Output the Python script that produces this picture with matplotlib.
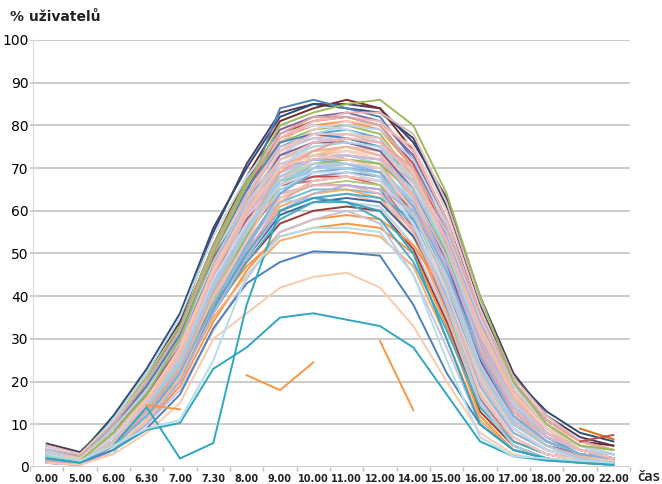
import matplotlib
matplotlib.use("Agg")
import matplotlib.pyplot as plt
import numpy as np

categories = ["0.00", "5.00", "6.00", "6.30", "7.00", "7.30", "8.00", "9.00", "10.00",
              "11.00", "12.00", "14.00", "15.00", "16.00", "17.00", "18.00", "20.00", "22.00"]
y_ticks = [0, 10, 20, 30, 40, 50, 60, 70, 80, 90, 100]
y_label = "% uživatelů"
x_label = "čas"

nan = np.nan
# main bundle of user curves (percent of users online)
s01 = [5.5, 3.5, 11, 22, 34, 55, 71, 83, 85, 85, 84, 76, 63, 40, 22, 12, 7, 5]
s02 = [5, 3, 12, 23, 36, 56, 70, 82, 85, 84, 83, 77, 61, 38, 21, 13, 8, 6]
s03 = [4, 2.5, 10, 20, 33, 52, 68, 81, 84, 86, 84, 74, 58, 36, 20, 11, 6, 5]
s04 = [2, 1, 7, 15, 28, 48, 64, 84, 86, 84, 82, 72, 55, 32, 17, 9, 5, 3]
s05 = [4.5, 3, 9, 19, 31, 51, 67, 79, 82, 83, 81, 73, 57, 34, 19, 11, 6, 4]
s06 = [3, 2, 8, 18, 30, 49, 65, 78, 81, 82, 80, 71, 54, 30, 16, 9, 5, 3]
s07 = [1.5, 0.5, 6, 14, 26, 46, 62, 77, 80, 81, 79, 70, 52, 28, 14, 8, 4, 3]
s08 = [5, 3, 11, 21, 33, 52, 67, 76, 79, 80, 78, 68, 50, 27, 14, 8, 4, 3]
s09 = [2.5, 1.5, 8, 17, 29, 48, 63, 75, 78, 79, 77, 66, 48, 25, 12, 6, 3, 2]
s10 = [4, 2.5, 9, 18, 30, 47, 61, 74, 77, 78, 76, 69, 53, 31, 16, 9, 5, 4]
s11 = [1, 0.5, 5, 13, 25, 44, 60, 73, 76, 77, 75, 65, 46, 24, 11, 6, 3, 2]
s12 = [3.5, 2, 10, 19, 31, 50, 64, 75, 77, 76, 74, 64, 45, 22, 10, 5, 3, 2]
s13 = [2, 1, 7, 16, 27, 45, 59, 72, 75, 76, 74, 66, 51, 29, 15, 8, 4, 3]
s14 = [4.5, 3, 10, 20, 32, 50, 62, 73, 74, 75, 73, 62, 44, 21, 10, 5, 3, 2]
s15 = [1.5, 0.5, 6, 14, 24, 42, 57, 70, 73, 74, 73, 64, 49, 30, 17, 10, 6, 4]
s16 = [3, 2, 8, 16, 28, 46, 60, 71, 73, 73, 72, 63, 47, 26, 13, 7, 4, 3]
s17 = [2.5, 1, 7, 15, 26, 44, 58, 69, 72, 72, 71, 61, 43, 20, 9, 4, 2, 1.5]
s18 = [4, 2.5, 9, 18, 29, 47, 60, 68, 71, 71, 70, 60, 42, 19, 8, 4, 2, 1.5]
s19 = [1, 0.5, 5, 12, 22, 40, 55, 67, 70, 71, 69, 62, 48, 28, 15, 9, 5, 3]
s20 = [3, 2, 8, 17, 28, 45, 58, 67, 69, 70, 68, 58, 40, 18, 8, 4, 2, 1]
s21 = [2, 1, 6, 14, 24, 41, 54, 65, 68, 69, 68, 60, 45, 25, 12, 6, 3, 2]
s22 = [4, 2.5, 10, 19, 30, 46, 57, 66, 67, 68, 66, 56, 38, 17, 7, 3, 2, 1]
s23 = [1.5, 0.5, 5, 13, 23, 39, 52, 63, 66, 67, 66, 59, 46, 27, 14, 8, 4, 3]
s24 = [2.5, 1.5, 7, 15, 26, 43, 55, 64, 66, 66, 65, 55, 37, 16, 6, 3, 1.5, 1]
s25 = [3.5, 2, 8, 16, 27, 42, 53, 62, 65, 65, 64, 57, 43, 23, 11, 6, 3, 2]
s26 = [1, 0.5, 4, 11, 21, 37, 50, 61, 64, 65, 63, 54, 36, 15, 6, 3, 1.5, 1]
s27 = [2, 1, 6, 14, 24, 40, 51, 60, 63, 64, 62, 56, 44, 26, 13, 7, 4, 2]
s28 = [3, 2, 7, 15, 25, 41, 52, 62, 63, 62, 61, 52, 35, 14, 5, 2, 1, 1]
s29 = [1.5, 1, 5, 12, 22, 38, 49, 59, 62, 63, 62, 54, 41, 22, 10, 5, 3, 2]
s30 = [2, 1, 6, 13, 23, 38, 48, 57, 60, 61, 60, 51, 34, 13, 5, 2, 1, 1]
s31 = [1, 0.5, 4, 10, 19, 34, 46, 55, 58, 59, 58, 52, 40, 21, 9, 4, 2, 1.5]
s32 = [3, 1.5, 7, 14, 23, 37, 47, 54, 56, 57, 56, 50, 33, 12, 4, 2, 1, 1]
s33 = [2.5, 1, 6, 13, 21, 35, 45, 53, 55, 55, 54, 47, 30, 11, 4, 2, 1, 0.5]
s34 = [1, 0.5, 4, 10, 18, 32, 44, 55, 58, 60, 57, 45, 28, 10, 4, 2, 1, 0.5]
s35 = [2, 1, 5, 12, 20, 36, 48, 58, 62, 62, 58, 48, 32, 14, 6, 3, 1.5, 1]
s36 = [3, 1.5, 8, 16, 27, 45, 60, 74, 79, 81, 80, 75, 60, 37, 19, 10, 5, 3]
s37 = [4.5, 2.5, 11, 22, 35, 54, 68, 78, 80, 79, 76, 66, 47, 24, 11, 6, 3, 2]
s38 = [2, 1, 7, 15, 27, 45, 58, 68, 70, 70, 69, 63, 50, 32, 18, 10, 5, 3]
s39 = [3.5, 2, 9, 18, 29, 47, 61, 72, 74, 74, 72, 60, 41, 18, 7, 3, 1.5, 1]
s40 = [1, 0.5, 5, 12, 21, 37, 51, 64, 70, 73, 72, 67, 54, 34, 18, 9, 4, 2]
s41 = [3, 1.5, 8, 17, 28, 46, 62, 76, 81, 83, 83, 78, 62, 39, 21, 12, 6, 4]
s42 = [1.5, 0.5, 5, 12, 22, 40, 56, 70, 76, 78, 77, 69, 52, 30, 15, 7, 3, 2]
s43 = [5, 3, 10, 20, 32, 50, 63, 70, 71, 70, 68, 58, 39, 17, 7, 3, 2, 1.5]
s44 = [3, 2, 3, 16, 26, 43, 57, 68, 72, 73, 71, 57, 38, 15, 5, 2, 1, 0.5]
s51 = [2, 1, 6, 15, 27, 47, 63, 77, 81, 82, 81, 74, 58, 35, 18, 9, 4, 3]
s52 = [4, 2.5, 9, 19, 31, 50, 65, 76, 78, 77, 75, 67, 50, 28, 14, 7, 4, 2]
s53 = [1.5, 1, 6, 14, 25, 43, 58, 71, 74, 75, 74, 68, 55, 35, 20, 11, 6, 4]
s54 = [3, 2, 8, 17, 28, 45, 58, 66, 68, 68, 67, 60, 46, 26, 12, 6, 3, 2]
s55 = [2.5, 1.5, 7, 15, 25, 42, 55, 65, 69, 70, 69, 63, 49, 29, 14, 7, 3, 2]
s56 = [1, 0.5, 4, 11, 20, 36, 50, 62, 67, 68, 67, 61, 47, 27, 13, 6, 3, 1.5]
s57 = [4, 2, 9, 18, 30, 48, 61, 70, 72, 71, 69, 58, 40, 19, 8, 4, 2, 1]
s58 = [2, 1, 6, 13, 23, 40, 54, 66, 71, 72, 71, 64, 50, 31, 16, 8, 4, 2]
s59 = [3, 1.5, 7, 15, 26, 44, 57, 68, 72, 74, 73, 66, 52, 32, 17, 9, 5, 3]
s60 = [1.5, 0.5, 5, 12, 21, 37, 50, 60, 63, 64, 63, 58, 46, 28, 14, 7, 3, 2]
s61 = [3.5, 2, 8, 16, 27, 44, 56, 64, 66, 66, 64, 55, 39, 20, 9, 4, 2, 1]
s62 = [2, 1, 6, 14, 25, 43, 59, 73, 78, 80, 79, 72, 57, 36, 19, 10, 5, 3]
s63 = [4, 2.5, 10, 20, 32, 51, 66, 78, 82, 82, 80, 70, 52, 29, 14, 7, 4, 2]
s64 = [1, 0.5, 4, 11, 21, 38, 53, 67, 73, 75, 74, 67, 53, 33, 17, 8, 4, 2]
s65 = [2.5, 1, 7, 15, 26, 43, 56, 66, 70, 71, 70, 62, 47, 26, 12, 6, 3, 2]
s66 = [3, 2, 8, 17, 29, 48, 62, 73, 76, 76, 74, 65, 48, 25, 11, 5, 3, 2]
s67 = [2, 1, 5, 13, 23, 40, 53, 63, 67, 68, 67, 59, 44, 24, 11, 5, 2, 1.5]
s68 = [1.5, 1, 6, 14, 25, 42, 56, 68, 72, 73, 72, 65, 51, 31, 16, 8, 4, 2]
s69 = [3, 1.5, 7, 16, 27, 45, 59, 70, 74, 75, 73, 63, 46, 24, 11, 5, 2.5, 1.5]
s70 = [2, 1, 6, 14, 24, 41, 55, 67, 71, 71, 70, 61, 45, 24, 11, 6, 3, 2]
s71 = [4, 2, 9, 18, 29, 46, 59, 69, 72, 73, 72, 64, 49, 28, 14, 7, 4, 3]
s72 = [1, 0.5, 5, 12, 22, 38, 52, 64, 69, 70, 69, 61, 46, 26, 12, 6, 3, 2]
s73 = [2.5, 1.5, 7, 16, 27, 46, 61, 74, 78, 78, 77, 69, 53, 31, 15, 8, 4, 2]
s74 = [3.5, 2, 9, 18, 30, 48, 62, 72, 75, 76, 75, 67, 51, 30, 15, 8, 4, 3]
s75 = [1.5, 0.5, 5, 13, 23, 41, 56, 69, 74, 77, 76, 70, 56, 36, 20, 11, 6, 4]
s76 = [2, 1, 7, 15, 26, 44, 57, 66, 69, 69, 67, 57, 41, 21, 9, 4, 2, 1]
s77 = [3, 2, 8, 16, 28, 46, 60, 70, 73, 72, 70, 60, 43, 22, 10, 5, 2, 1.5]
s78 = [1, 0.5, 4, 10, 20, 36, 49, 60, 64, 66, 65, 60, 48, 30, 16, 8, 4, 2]
s79 = [2.5, 1.5, 6, 14, 24, 42, 56, 67, 70, 70, 68, 59, 43, 23, 10, 5, 2, 1]
s80 = [2, 1, 6, 15, 26, 45, 60, 72, 76, 77, 76, 68, 53, 32, 16, 8, 4, 2]
# green curve with the latest afternoon drop
s45 = [3, 1.5, 8, 17, 30, 50, 66, 80, 83, 85, 86, 80, 64, 40, 20, 10, 5, 4]
# low outliers
s46 = [2, 1, 4, 9, 17, 32.5, 43, 48, 50.5, 50.2, 49.5, 38, 22, 10, 4, 2, 1, 1]
s47 = [1, 0.5, 3, 8, 15, 30, 36, 42, 44.5, 45.5, 42, 33, 20, 8, 3, 1.5, 1, 0.5]
s48 = [nan, nan, 4, 8.7, 10.3, 23, 28, 35, 36, 34.5, 33, 28, 17, 6, 2.5, 1.5, 1, 0.5]
s49 = [2, 1, 5, 14, 2, 5.6, 38, 60, 63, 62, 60, 50, 30, 10, 4, 2, 1, 0.5]
s50 = [3, 1.5, 5, 9, 11, 25, 45, 54, 56, 56, 55, 45, 25, 7, 2.5, 2, 1.5, 1]
# broken orange fragments
f1 = [nan, nan, nan, 14.5, 13.5, nan, nan, nan, nan, nan, nan, nan, nan, nan, nan, nan, nan, nan]
f2 = [nan, nan, nan, nan, nan, nan, 21.5, 18, 24.5, nan, nan, nan, nan, nan, nan, nan, nan, nan]
f3 = [nan, nan, nan, nan, nan, nan, nan, nan, nan, nan, 29.5, 13.3, nan, nan, nan, nan, nan, nan]
f4 = [nan, nan, nan, nan, nan, nan, nan, nan, nan, nan, nan, nan, nan, nan, nan, nan, 9, 6.5]
f5 = [nan, nan, nan, nan, nan, nan, nan, nan, nan, nan, nan, nan, nan, nan, nan, nan, 6, 7.5]

series = [s01, s02, s03, s04, s05, s06, s07, s08, s09, s10, s11, s12, s13, s14, s15,
          s16, s17, s18, s19, s20, s21, s22, s23, s24, s25, s26, s27, s28, s29, s30,
          s31, s32, s33, s34, s35, s36, s37, s38, s39, s40, s41, s42, s43, s44,
          s51, s52, s53, s54, s55, s56, s57, s58, s59, s60, s61, s62, s63, s64, s65,
          s66, s67, s68, s69, s70, s71, s72, s73, s74, s75, s76, s77, s78, s79, s80,
          s45, s46, s47, s48, s49, s50, f1, f2, f3, f4, f5]
colors = ['#4D3B62', '#2C4D75', '#772C2A', '#4F81BD', '#8064A2', '#C0504D', '#F79646',
          '#9BBB59', '#4BACC6', '#E6B9B8', '#B9CDE5', '#CCC0DA', '#F2DCDB', '#B7DEE8',
          '#FAC090', '#95B3D7', '#D99694', '#C3D69B', '#B3A2C7', '#93CDDD', '#729ACA',
          '#CD7371', '#AFC97A', '#9983B5', '#6FBDD1', '#F9AB6B', '#E6B9B8', '#B9CDE5',
          '#3A679C', '#9F3B38', '#F79646', '#F79646', '#F9AB6B', '#CCC0DA', '#4BACC6',
          '#F4C7C3', '#C6D9F1', '#DDD9C4', '#FCD5B5', '#8EB4E3', '#E6B9B8', '#B9CDE5',
          '#F2C4C0', '#A6D3E0',
          '#F4B6B0', '#4F81BD', '#D7C9E4', '#C0504D', '#B0DCE6', '#E8A7A4', '#93B9E0',
          '#9BBB59', '#F5D0CC', '#4BACC6', '#E9B8B6', '#BDD1EC', '#D4A5A3', '#F8C19A',
          '#A8C6E6', '#8064A2', '#EFC2C0', '#9FCFDF', '#F3B49A', '#B3CBE8', '#DCB8D6',
          '#7FB0DC', '#F2BFB7', '#AFD5E2', '#E3A6A1', '#C7D7EE', '#F6C8B0', '#B9B0D6',
          '#A4CCE0', '#F0B8B2',
          '#9BBB59', '#4F81BD', '#F8CBAD', '#31A6C0', '#31A6C0',
          '#B7DEE8', '#F79646', '#F79646', '#F79646', '#E46C0A', '#C0504D']

fig = plt.figure(figsize=(6.62, 4.84), dpi=100)
ax = fig.add_axes([30 / 662, 1 - 467 / 484, 600 / 662, 427 / 484])
x = np.arange(len(categories))
for s, c in zip(series, colors):
    ax.plot(x, s, color=c, lw=1.4, solid_joinstyle='miter', zorder=3)

ax.set_xlim(-0.5, len(categories) - 0.5)
ax.set_ylim(0, 100)
ax.set_yticks(y_ticks)
ax.set_yticklabels([str(v) for v in y_ticks], fontsize=6, fontweight='bold', color='#222222')
ax.set_xticks(x)
ax.set_xticklabels(categories, fontsize=7, fontweight='bold', color='#222222',
                   family=['Liberation Sans Narrow', 'DejaVu Sans'])
ax.set_xticks(np.arange(-0.5, len(categories), 1), minor=True)
ax.tick_params(axis='x', which='major', length=0, pad=5)
ax.tick_params(axis='x', which='minor', length=3, color='#bbbbbb', width=1)
ax.tick_params(axis='y', length=0, pad=3.5)
ax.grid(axis='y', color='#c8c8c8', lw=1.3)
ax.set_axisbelow(True)
for side in ['top', 'right', 'bottom']:
    ax.spines[side].set_visible(False)
ax.spines['left'].set_color('#d9d9d9')
ax.spines['left'].set_position(('data', -0.4))

fig.text(10 / 662, 1 - 17 / 484, y_label, fontsize=10, fontweight='bold', va='center', ha='left',
         color='#222222')
fig.text(637 / 662, 1 - 477 / 484, x_label, fontsize=10.5, fontweight='semibold',
         family=['Open Sans', 'DejaVu Sans'], va='center', ha='left', color='#222222')

fig.savefig("out.png", dpi=100)
